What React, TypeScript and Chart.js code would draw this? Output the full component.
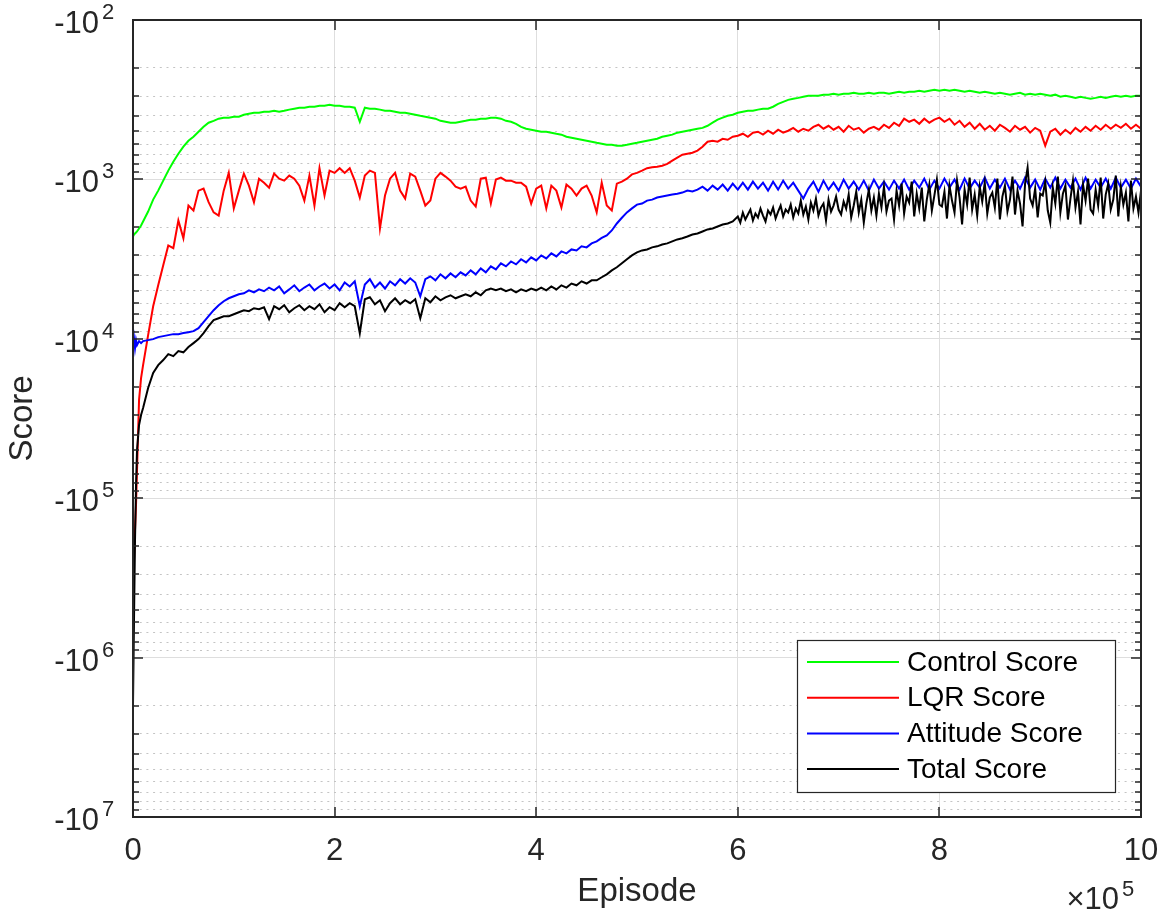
import React, { useEffect, useRef } from "react";
import { Chart, registerables } from "chart.js";

Chart.register(...registerables);

// ---------------- data ----------------
// Episode grid, in thousands of episodes
const episodesK = [
  0, 1, 2, 3, 4, 6, 8,
  10, 15, 20, 25, 30, 35, 40, 45, 50, 55,
  60, 65, 70, 75, 80, 85, 90, 95, 100, 105,
  110, 115, 120, 125, 130, 135, 140, 145, 150, 155,
  160, 165, 170, 175, 180, 185, 190, 195, 200, 205,
  210, 215, 220, 225, 230, 235, 240, 245, 250, 255,
  260, 265, 270, 275, 280, 285, 290, 295, 300, 305,
  310, 315, 320, 325, 330, 335, 340, 345, 350, 355,
  360, 365, 370, 375, 380, 385, 390, 395, 400, 405,
  410, 415, 420, 425, 430, 435, 440, 445, 450, 455,
  460, 465, 470, 475, 480, 485, 490, 495, 500, 505,
  510, 515, 520, 525, 530, 535, 540, 545, 550, 555,
  560, 565, 570, 575, 580, 585, 590, 595, 600, 605,
  610, 615, 620, 625, 630, 635, 640, 645, 650, 655,
  660, 665, 670, 675, 680, 685, 690, 695, 700, 705,
  710, 715, 720, 725, 730, 735, 740, 745, 750, 755,
  760, 765, 770, 775, 780, 785, 790, 795, 800, 805,
  810, 815, 820, 825, 830, 835, 840, 845, 850, 855,
  860, 865, 870, 875, 880, 885, 890, 895, 900, 905,
  910, 915, 920, 925, 930, 935, 940, 945, 950, 955,
  960, 965, 970, 975, 980, 985, 990, 995, 1000,
];

// Finer episode grid (thousands) for the very noisy late part of the Total Score
const lateEpisodesK = [
  600, 602.5, 605, 607.5, 610, 612.5, 615, 617.5, 620, 622.5, 625, 627.5, 630, 632.5, 635, 637.5, 640, 642.5, 645, 647.5, 650,
  652.5, 655, 657.5, 660, 662.5, 665, 667.5, 670, 672.5, 675, 677.5, 680, 682.5, 685, 687.5, 690, 692.5, 695, 697.5, 700,
  702.5, 705, 707.5, 710, 712.5, 715, 717.5, 720, 722.5, 725, 727.5, 730, 732.5, 735, 737.5, 740, 742.5, 745, 747.5, 750,
  752.5, 755, 757.5, 760, 762.5, 765, 767.5, 770, 772.5, 775, 777.5, 780, 782.5, 785, 787.5, 790, 792.5, 795, 797.5, 800,
  802.5, 805, 807.5, 810, 812.5, 815, 817.5, 820, 822.5, 825, 827.5, 830, 832.5, 835, 837.5, 840, 842.5, 845, 847.5, 850,
  852.5, 855, 857.5, 860, 862.5, 865, 867.5, 870, 872.5, 875, 877.5, 880, 882.5, 885, 887.5, 890, 892.5, 895, 897.5, 900,
  902.5, 905, 907.5, 910, 912.5, 915, 917.5, 920, 922.5, 925, 927.5, 930, 932.5, 935, 937.5, 940, 942.5, 945, 947.5, 950,
  952.5, 955, 957.5, 960, 962.5, 965, 967.5, 970, 972.5, 975, 977.5, 980, 982.5, 985, 987.5, 990, 992.5, 995, 997.5, 1000,
];

const controlScore = [
  -2280, -2215, -2183, -2152, -2121, -2031, -1946,
  -1837, -1591, -1339, -1176, -1018, -881, -774, -690, -623, -572,
  -540, -502, -468, -441, -429, -416, -410, -410, -404, -404,
  -393, -387, -382, -382, -376, -376, -371, -376, -371, -365,
  -360, -355, -355, -350, -350, -345, -345, -340, -345, -345,
  -350, -350, -355, -435, -355, -360, -360, -365, -371, -371,
  -376, -382, -382, -387, -393, -399, -404, -410, -416, -429,
  -435, -441, -441, -435, -429, -422, -422, -416, -416, -410,
  -410, -416, -429, -435, -448, -468, -481, -488, -495, -502,
  -502, -509, -517, -524, -540, -548, -556, -564, -572, -580,
  -589, -597, -606, -606, -614, -614, -606, -597, -589, -580,
  -572, -564, -556, -540, -532, -524, -509, -502, -495, -488,
  -481, -475, -461, -441, -422, -410, -399, -393, -382, -376,
  -371, -371, -365, -360, -360, -350, -336, -326, -317, -312,
  -308, -303, -299, -299, -299, -294, -294, -290, -294, -290,
  -290, -286, -290, -290, -286, -290, -286, -286, -290, -286,
  -282, -286, -282, -282, -278, -282, -278, -274, -278, -274,
  -278, -274, -278, -282, -278, -282, -286, -282, -286, -290,
  -286, -290, -294, -290, -286, -294, -290, -294, -290, -294,
  -299, -294, -303, -299, -303, -308, -303, -308, -312, -308,
  -303, -308, -303, -299, -303, -299, -303, -299, -299,
];

const lqrScore = [
  -432000, -243000, -157800, -110000, -66400, -24180, -17650,
  -14630, -9484, -6250, -4617, -3460, -2594, -2700, -1811, -2340, -1459,
  -1568, -1176, -1142, -1390, -1610, -1685, -1176, -910, -1520, -1176,
  -920, -1094, -1390, -990, -1050, -1126, -920, -990, -1018, -947,
  -990, -1094, -1358, -947, -1459, -850, -1263, -881, -910, -850,
  -910, -850, -1018, -1300, -947, -881, -910, -2031, -1263, -990,
  -910, -1176, -1319, -920, -960, -1176, -1459, -1358, -990, -910,
  -960, -1018, -1110, -1142, -1110, -1358, -1480, -990, -975, -1418,
  -1003, -975, -1018, -1018, -1048, -1048, -1110, -1418, -1142, -1094,
  -1520, -1094, -1176, -1500, -1078, -1142, -1263, -1142, -1094, -1263,
  -1610, -1048, -1459, -1568, -1063, -1033, -990, -930, -910, -881,
  -850, -840, -833, -820, -800, -763, -730, -700, -690, -680,
  -660, -624, -580, -572, -580, -556, -564, -540, -532, -517,
  -540, -509, -502, -524, -495, -517, -488, -509, -495, -475,
  -502, -481, -495, -468, -454, -481, -461, -488, -468, -502,
  -461, -488, -475, -509, -481, -468, -488, -454, -475, -441,
  -461, -416, -435, -422, -448, -416, -441, -422, -410, -435,
  -416, -454, -429, -468, -441, -481, -448, -488, -461, -495,
  -454, -475, -502, -461, -488, -468, -509, -475, -495, -614,
  -502, -481, -524, -488, -517, -475, -502, -468, -495, -461,
  -488, -454, -481, -454, -475, -448, -481, -454, -481,
];

const attitudeScore = [
  -11112, -9903, -11437, -10192, -10952, -10340, -10640,
  -10340, -10192, -10050, -9760, -9622, -9484, -9349, -9349, -9210, -9084,
  -8950, -8576, -7866, -7215, -6617, -6158, -5810, -5568, -5410, -5256,
  -5180, -4962, -5107, -4900, -5030, -4770, -4962, -4698, -5180, -4900,
  -4617, -5030, -4770, -4564, -4962, -4698, -4500, -4836, -4564, -4962,
  -4434, -4698, -4360, -6248, -4564, -4230, -4770, -4434, -4836, -4360,
  -4617, -4230, -4500, -4174, -4434, -5410, -4230, -4056, -4296, -3941,
  -4174, -3890, -4110, -3829, -4000, -3720, -3941, -3614, -3829, -3512,
  -3670, -3360, -3512, -3270, -3412, -3170, -3315, -3080, -3221, -2997,
  -3130, -2910, -3040, -2830, -2910, -2750, -2789, -2630, -2670, -2520,
  -2450, -2330, -2247, -2091, -1890, -1740, -1610, -1520, -1440, -1418,
  -1358, -1340, -1300, -1282, -1263, -1245, -1230, -1210, -1176, -1190,
  -1159, -1110, -1176, -1094, -1159, -1078, -1176, -1063, -1159, -1048,
  -1159, -1033, -1142, -1048, -1176, -1033, -1159, -1018, -1142, -1048,
  -1176, -1319, -1142, -1033, -1193, -1018, -1159, -1048, -1176, -1003,
  -1142, -1033, -1159, -1018, -1176, -1003, -1142, -1033, -1159, -1018,
  -1142, -1003, -1159, -1018, -1126, -989, -1159, -1018, -1142, -989,
  -1126, -1003, -1159, -989, -1142, -1018, -1126, -975, -1142, -1003,
  -1126, -989, -1159, -1018, -1142, -975, -1126, -1003, -1159, -989,
  -1126, -975, -1142, -1003, -1126, -989, -1159, -975, -1142, -1003,
  -1126, -989, -1142, -975, -1126, -1003, -1142, -989, -1110,
];

// Total Score before 6e5 (on episodesK) and after (on lateEpisodesK)
const totalScoreEarly = [
  -1963000, -577000, -182000, -82400, -49800, -34800, -30100,
  -27200, -20370, -16400, -14630, -13593, -12470, -12840, -11940, -12160, -11270,
  -10640, -10050, -9210, -8332, -7642, -7426, -7215, -7215, -7010, -6811,
  -6617, -6710, -6430, -6520, -6340, -7530, -6248, -6520, -6158, -6811,
  -6430, -6158, -6617, -6248, -6520, -6070, -6811, -6340, -6617, -5980,
  -6340, -5980, -6248, -9210, -5650, -5490, -6070, -5730, -6710, -5980,
  -5568, -6070, -5730, -5980, -5650, -7426, -5568, -5898, -5410, -5730,
  -5490, -5330, -5568, -5410, -5256, -5410, -5107, -5330, -4962, -4836,
  -4962, -4836, -5030, -4900, -5107, -4900, -5030, -4836, -4962, -4770,
  -4962, -4698, -4900, -4617, -4770, -4500, -4617, -4360, -4500, -4296,
  -4296, -4110, -3941, -3720, -3560, -3360, -3170, -2997, -2870, -2789,
  -2750, -2670, -2630, -2560, -2520, -2450, -2380, -2340, -2280, -2215,
  -2183, -2121, -2060, -2031, -1975, -1920, -1890, -1837,
];

const totalScoreLate = [
  -1709, -1864, -1614, -1785, -1661, -1546, -1811, -1637, -1734, -1524, -1685, -1837, -1568, -1661, -1502, -1760, -1591, -1459, -1709, -1546, -1614,
  -1439, -1734, -1524, -1637, -1358, -1661, -1480, -1785, -1398, -1568, -1319, -1685, -1502, -1418, -1811, -1339, -1591, -1459, -1282, -1546,
  -1661, -1378, -1524, -1245, -1734, -1459, -1193, -1614, -1339, -1864, -1418, -1159, -1568, -1300, -1685, -1228, -1502, -1110, -1591, -1358,
  -1319, -1785, -1176, -1459, -1063, -1637, -1282, -1398, -1033, -1709, -1228, -1524, -1126, -1837, -1339, -1078, -1568, -1263, -1003, -1439,
  -1480, -1193, -1760, -1094, -1358, -1614, -1018, -1300, -1918, -1159, -1439, -975, -1546, -1245, -1685, -1110, -1378, -1048, -1637, -1300,
  -1210, -1502, -989, -1785, -1282, -1094, -1591, -1339, -961, -1661, -1176, -1418, -1974, -1063, -844, -1319, -1459, -1142, -1734, -1228,
  -1263, -1033, -1568, -1864, -1126, -1418, -961, -1614, -1228, -1094, -1785, -1319, -1018, -1502, -1193, -1918, -1078, -1358, -989, -1546,
  -1637, -1159, -1459, -975, -1760, -1245, -1063, -1546, -1339, -947, -1709, -1110, -1439, -1210, -1837, -1018, -1524, -1282, -1614, -1176,
];

const seriesLabels = ["Control Score", "LQR Score", "Attitude Score", "Total Score"];
const seriesColors = ["#00ff00", "#ff0000", "#0000ff", "#000000"];
const xTickLabels = [0, 2, 4, 6, 8, 10]; // in units of 10^5 episodes
const yDecadeExponents = [2, 3, 4, 5, 6, 7];
const yMinorMultipliers = [2, 3, 4, 5, 6, 7, 8, 9];

// ---------------- styling ----------------
const FONT = '"Liberation Sans", Arial, Helvetica, sans-serif';
const AXIS_COLOR = "#262626";
const TICK_FONT = 31;
const EXP_FONT = 22;
const TITLE_FONT = 33;
const LEGEND_FONT = 28;

const toPoints = (xsK: number[], vals: number[]) =>
  xsK.map((e, i) => ({ x: e * 1000, y: -vals[i] }));

const decorPlugin = {
  id: "matlabDecor",
  afterDraw(chart: any) {
    const { ctx, chartArea: a } = chart;
    const xs = chart.scales.x;
    const ys = chart.scales.y;
    const ym = chart.scales.yMinor;
    ctx.save();

    // axes box + inward ticks
    ctx.strokeStyle = AXIS_COLOR;
    ctx.lineWidth = 2;
    ctx.beginPath();
    ctx.rect(a.left, a.top, a.right - a.left, a.bottom - a.top);
    ctx.stroke();

    ctx.lineWidth = 1.5;
    ctx.beginPath();
    ys.ticks.forEach((t: any) => {
      const y = Math.round(ys.getPixelForValue(t.value));
      ctx.moveTo(a.left, y); ctx.lineTo(a.left + 10, y);
      ctx.moveTo(a.right, y); ctx.lineTo(a.right - 10, y);
    });
    ym.ticks.forEach((t: any) => {
      const y = Math.round(ym.getPixelForValue(t.value));
      ctx.moveTo(a.left, y); ctx.lineTo(a.left + 6, y);
      ctx.moveTo(a.right, y); ctx.lineTo(a.right - 6, y);
    });
    xs.ticks.forEach((t: any) => {
      const x = Math.round(xs.getPixelForValue(t.value));
      ctx.moveTo(x, a.bottom); ctx.lineTo(x, a.bottom - 10);
      ctx.moveTo(x, a.top); ctx.lineTo(x, a.top + 10);
    });
    ctx.stroke();

    // y tick labels: -10 with superscript exponent
    ctx.fillStyle = AXIS_COLOR;
    ctx.textBaseline = "alphabetic";
    yDecadeExponents.forEach((k) => {
      const y = ys.getPixelForValue(Math.pow(10, k));
      ctx.font = `${TICK_FONT}px ${FONT}`;
      ctx.textAlign = "right";
      ctx.fillText("-10", a.left - 34, y + 13);
      ctx.font = `${EXP_FONT}px ${FONT}`;
      ctx.textAlign = "left";
      ctx.fillText(String(k), a.left - 31, y - 1);
    });

    // x exponent label
    ctx.font = `${TICK_FONT}px ${FONT}`;
    ctx.textAlign = "right";
    ctx.fillText("\u00d710", a.right - 22, a.bottom + 92);
    ctx.font = `${EXP_FONT}px ${FONT}`;
    ctx.textAlign = "left";
    ctx.fillText("5", a.right - 19, a.bottom + 79);

    // legend
    const lx = a.right - 344;
    const ly = a.bottom - 177;
    const lw = 318;
    const lh = 152;
    ctx.fillStyle = "#ffffff";
    ctx.fillRect(lx, ly, lw, lh);
    ctx.strokeStyle = AXIS_COLOR;
    ctx.lineWidth = 1.2;
    ctx.strokeRect(lx + 0.5, ly + 0.5, lw, lh);
    ctx.font = `${LEGEND_FONT}px ${FONT}`;
    ctx.textAlign = "left";
    ctx.textBaseline = "middle";
    chart.data.datasets.forEach((ds: any, i: number) => {
      const ry = ly + 22 + i * 35.7;
      ctx.strokeStyle = ds.borderColor;
      ctx.lineWidth = 2;
      ctx.beginPath();
      ctx.moveTo(lx + 10, ry);
      ctx.lineTo(lx + 102, ry);
      ctx.stroke();
      ctx.fillStyle = "#000000";
      ctx.fillText(ds.label, lx + 110, ry + 1);
    });

    ctx.restore();
  },
};

export default function App() {
  const canvasRef = useRef<HTMLCanvasElement>(null);

  useEffect(() => {
    if (!canvasRef.current) return;
    const earlyEpisodesK = episodesK.filter((e) => e < 600);
    const seriesPoints = [
      toPoints(episodesK, controlScore),
      toPoints(episodesK, lqrScore),
      toPoints(episodesK, attitudeScore),
      [...toPoints(earlyEpisodesK, totalScoreEarly), ...toPoints(lateEpisodesK, totalScoreLate)],
    ];
    const chart = new Chart(canvasRef.current, {
      type: "line",
      data: {
        datasets: seriesPoints.map((pts, i) => ({
          label: seriesLabels[i],
          data: pts,
          borderColor: seriesColors[i],
          backgroundColor: seriesColors[i],
          borderWidth: 2,
          pointRadius: 0,
          tension: 0,
          fill: false,
          order: seriesPoints.length - i,
        })),
      },
      options: {
        animation: false,
        responsive: false,
        devicePixelRatio: 1,
        events: [],
        layout: { padding: { left: 0, right: 20, top: 20, bottom: 0 } },
        plugins: { legend: { display: false }, tooltip: { enabled: false } },
        scales: {
          x: {
            type: "linear",
            position: "bottom",
            min: 0,
            max: 1000000,
            afterBuildTicks: (s: any) => {
              s.ticks = xTickLabels.map((v) => ({ value: v * 100000 }));
            },
            ticks: {
              autoSkip: false,
              maxRotation: 0,
              padding: 16,
              color: AXIS_COLOR,
              font: { family: FONT, size: TICK_FONT },
              callback: (v: any) => String(Number(v) / 100000),
            },
            grid: { color: "#dedede", lineWidth: 1, drawTicks: false },
            border: { display: false },
            title: {
              display: true,
              text: "Episode",
              color: AXIS_COLOR,
              font: { family: FONT, size: TITLE_FONT },
              padding: { top: 0, bottom: 1 },
            },
            afterFit: (s: any) => {
              s.height = 96;
              s.paddingLeft = 0;
              s.paddingRight = 0;
            },
          },
          y: {
            type: "logarithmic",
            position: "left",
            reverse: true,
            min: 100,
            max: 10000000,
            afterBuildTicks: (s: any) => {
              s.ticks = yDecadeExponents.map((k) => ({ value: Math.pow(10, k), major: true }));
            },
            ticks: { display: false },
            grid: { color: "#dedede", lineWidth: 1, drawTicks: false },
            border: { display: false },
            title: {
              display: true,
              text: "Score",
              color: AXIS_COLOR,
              font: { family: FONT, size: TITLE_FONT },
              padding: { top: 3, bottom: 0 },
            },
            afterFit: (s: any) => {
              s.width = 133;
            },
          },
          yMinor: {
            type: "logarithmic",
            position: "right",
            reverse: true,
            min: 100,
            max: 10000000,
            afterBuildTicks: (s: any) => {
              const t: any[] = [];
              yDecadeExponents.slice(0, -1).forEach((k) => {
                yMinorMultipliers.forEach((m) => t.push({ value: m * Math.pow(10, k) }));
              });
              s.ticks = t;
            },
            ticks: { display: false },
            grid: { color: "#c4c4c4", lineWidth: 1, drawTicks: false },
            border: { display: false, dash: [2, 4.7] },
            afterFit: (s: any) => {
              s.width = 0;
              s.paddingTop = 0;
              s.paddingBottom = 0;
            },
          },
        },
      },
      plugins: [decorPlugin],
    } as any);
    return () => chart.destroy();
  }, []);

  return (
    <div style={{ position: "absolute", left: 0, top: 0, width: 1161, height: 913, background: "#ffffff" }}>
      <canvas ref={canvasRef} width={1161} height={913} style={{ display: "block" }} />
    </div>
  );
}
